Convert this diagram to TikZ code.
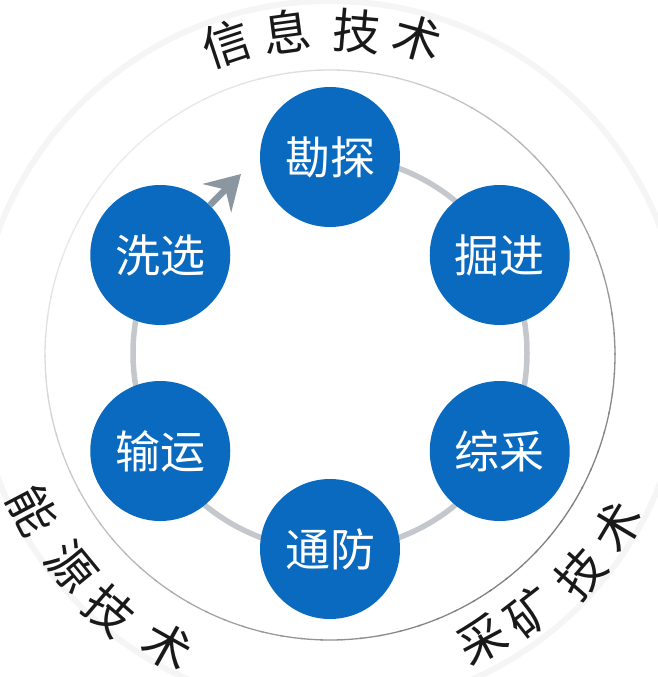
\documentclass[tikz,border=0pt]{standalone}
\usepackage{fontspec}
\newfontfamily\cjk{Noto Sans CJK SC}
\usetikzlibrary{arrows.meta}
\definecolor{nodeblue}{RGB}{10,106,192}
\definecolor{ringgray}{RGB}{196,200,204}
\definecolor{arrowgray}{RGB}{138,150,160}
\definecolor{labelink}{RGB}{25,25,25}
\begin{document}
\begin{tikzpicture}[x=1pt,y=1pt,
  stage/.style={circle, fill=nodeblue, minimum size=140pt, inner sep=0pt, text=white, font=\cjk\fontsize{45}{45}\selectfont},
  lbl/.style={text=labelink, font=\cjk\fontsize{48}{48}\selectfont, inner sep=0pt},
  cyc/.style={draw=ringgray, line width=5.5pt},
  arr/.style={draw=arrowgray, line width=6.5pt, -{Stealth[length=34pt,width=40pt,inset=12pt]}}
]
\useasboundingbox (0,-677) rectangle (657,0);
\coordinate (C) at (330,-353);
\coordinate (O) at (330,-355);
% outer faint ring
\draw[black!4, line width=6pt] (O) circle[radius=354];
% inner thin circle, darker towards lower right
\foreach \a in {0,4,...,356}{
  \pgfmathtruncatemacro\s{round(8+42*(1+cos(\a+45))/2)}
  \draw[black!\s, line width=1.3pt] ([shift={(\a:285)}]O) arc[start angle=\a, end angle=\a+4.5, radius=285];
}
% cycle ring
\draw[cyc] ([shift={(90:197)}]C) arc[start angle=90, end angle=-210, radius=197];
% stages
\node[stage] (kt) at ([shift={(90:196)}]C) {勘探};
\node[stage] (jj) at ([shift={(30:196)}]C) {掘进};
\node[stage] (zc) at ([shift={(-30:196)}]C) {综采};
\node[stage] (tf) at ([shift={(-90:196)}]C) {通防};
\node[stage] (sy) at ([shift={(-150:196)}]C) {输运};
\node[stage] (xx) at ([shift={(150:196)}]C) {洗选};
% arrow
\coordinate (tip) at (241,-174);
\draw[arr] (xx) -- (tip);
% labels
\foreach \ch/\ang/\r [count=\i] in {信/108.3/328, 息/97.6/326, 技/85.2/325, 术/74.6/329}
  \node[lbl, rotate=\ang-90] (t\i) at ([shift={(\ang:\r)}]O) {\ch};
\foreach \ch/\ang/\r [count=\i] in {能/207.6/335, 源/219.4/334, 技/229.2/337, 术/240.8/334}
  \node[lbl, rotate=\ang+90] (l\i) at ([shift={(\ang:\r)}]O) {\ch};
\foreach \ch/\ang/\r [count=\i] in {采/298.2/323, 矿/307.8/326, 技/318.9/332, 术/329.1/335}
  \node[lbl, rotate=\ang+90] (r\i) at ([shift={(\ang:\r)}]O) {\ch};
\end{tikzpicture}
\end{document}
